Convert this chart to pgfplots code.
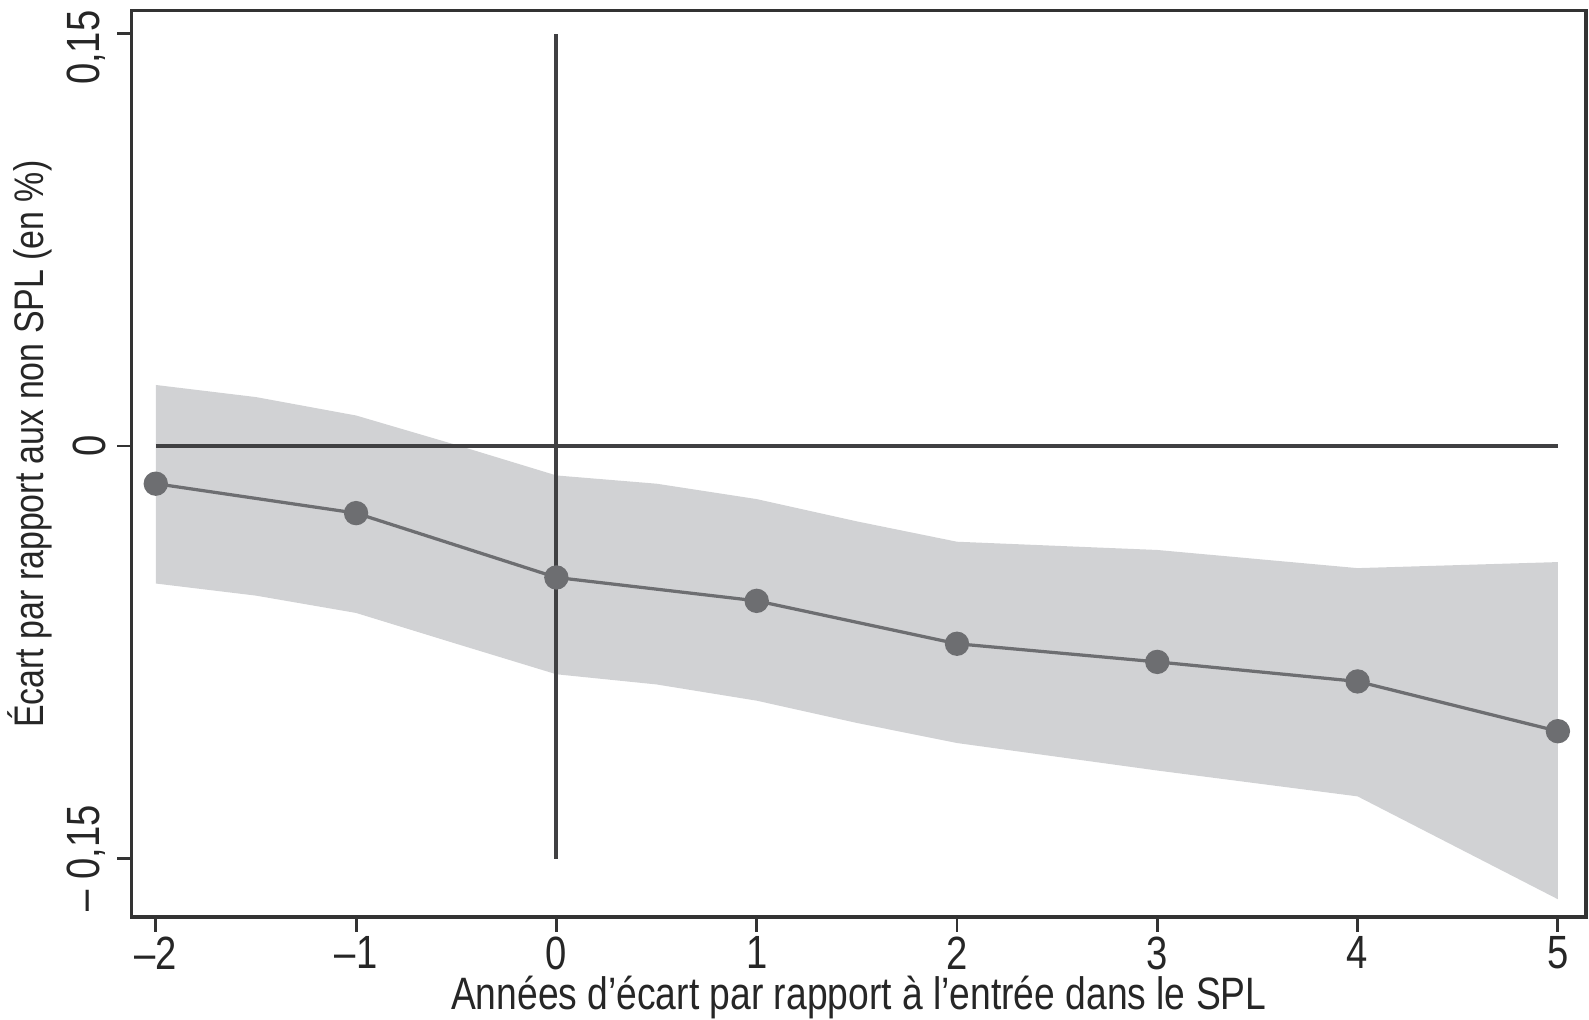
\documentclass[border=0pt]{standalone}
\usepackage{fontspec}
\setmainfont{Liberation Sans}[FakeStretch=0.82]
\usepackage{pgfplots}
\pgfplotsset{compat=1.18}
\usepgfplotslibrary{fillbetween}
\definecolor{bandgray}{HTML}{D1D2D4}
\definecolor{sergray}{HTML}{6D6E71}
\definecolor{refgray}{HTML}{404042}
\definecolor{axgray}{HTML}{333333}
\begin{document}
\begin{tikzpicture}
\begin{axis}[
  scale only axis,
  width=358.75pt, height=223.75pt,
  xmin=-2.12, xmax=5.14,
  ymin=-0.1713, ymax=0.1585,
  axis line style={axgray, line width=0.8pt},
  tick style={axgray, line width=0.7pt},
  tick align=outside,
  major tick length=3.6pt,
  xtick pos=bottom, ytick pos=left,
  xtick={-2,-1,0,1,2,3,4,5},
  xticklabels={–2,–1,0,1,2,3,4,5},
  ytick={-0.15,0,0.15},
  yticklabels={{– 0,15},{0},{0,15\kern7pt}},
  tick label style={font=\fontsize{11.5}{12}\selectfont, text=black!85},
  y tick label style={rotate=90, anchor=south, inner sep=2.6pt},
  x tick label style={inner sep=1pt},
  xlabel={Années d’écart par rapport à l’entrée dans le SPL},
  ylabel={Écart par rapport aux non SPL (en \%)},
  xlabel style={font=\fontsize{11.2}{12}\selectfont, text=black!85, inner sep=1pt, yshift=0.5pt},
  ylabel style={font=\fontsize{10.2}{12}\selectfont, text=black!85, at={(ticklabel cs:0.525)}, inner sep=1pt, xshift=-0.8pt},
  clip=false,
]
% confidence band
\addplot[name path=upper, draw=none, forget plot] coordinates {
  (-2,0.0222) (-1.5,0.0178) (-1,0.0111) (-0.5,0.0004) (0,-0.0107)
  (0.5,-0.0137) (1,-0.0193) (1.5,-0.0274) (2,-0.0348) (3,-0.0378)
  (4,-0.0444) (5,-0.0422)
};
\addplot[name path=lower, draw=none, forget plot] coordinates {
  (-2,-0.0500) (-1.5,-0.0544) (-1,-0.0607) (-0.5,-0.0719) (0,-0.0830)
  (0.5,-0.0867) (1,-0.0926) (1.5,-0.1007) (2,-0.1080) (3,-0.1180)
  (4,-0.1274) (5,-0.1648)
};
\addplot[bandgray, draw=none] fill between[of=upper and lower];
% point estimates
\addplot[sergray, line width=0.8pt, mark=*, mark size=2.6pt, mark options={fill=sergray, draw=sergray}] coordinates {
  (-2,-0.0137) (-1,-0.0244) (0,-0.0478) (1,-0.0563)
  (2,-0.0719) (3,-0.0785) (4,-0.0856) (5,-0.1037)
};
% reference lines
\addplot[refgray, line width=1pt] coordinates {(-2,0) (5,0)};
\addplot[refgray, line width=1pt] coordinates {(0,-0.15) (0,0.15)};
\end{axis}
\pgfresetboundingbox
\path[use as bounding box] ([shift={(-32.5pt,-25.25pt)}]current axis.south west) rectangle ([shift={(359.5pt,226.25pt)}]current axis.south west);
\end{tikzpicture}
\end{document}
